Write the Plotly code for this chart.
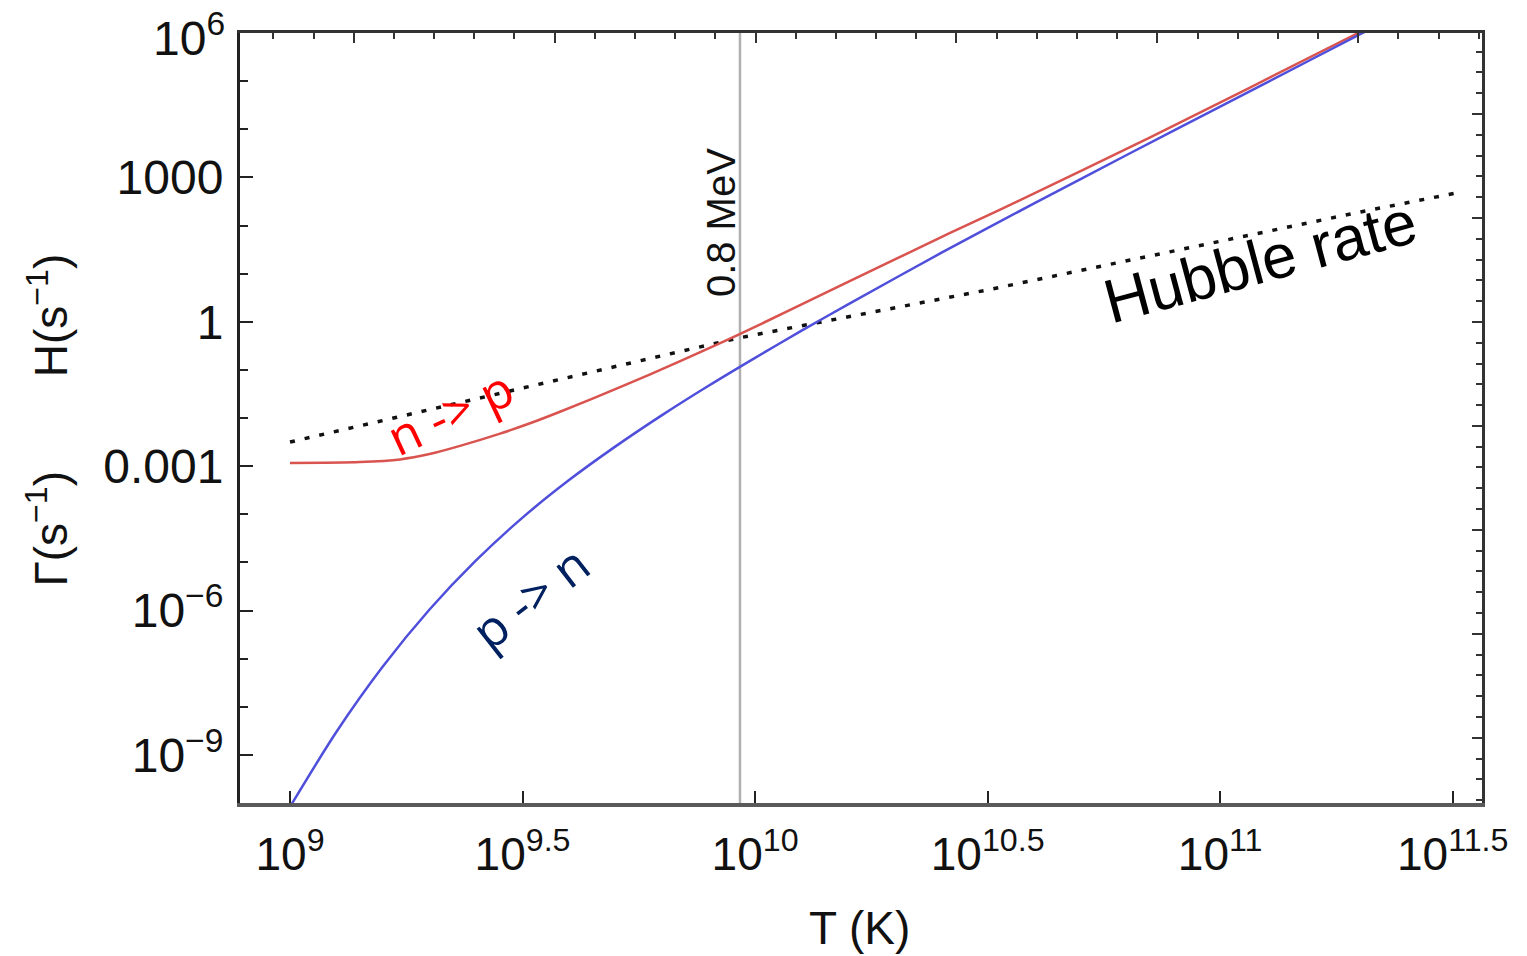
import numpy as np
import plotly.graph_objects as go

# ---- data (log10 values) ----
np_logT = [9.0, 9.15, 9.2366, 9.3, 9.3656, 9.45, 9.5161, 9.5806, 9.7097, 9.8365, 9.9634,
           10.19, 10.4194, 10.5269, 10.8495, 11.2968, 11.40]
np_logR = [-2.934, -2.915, -2.86, -2.75, -2.58, -2.33, -2.11, -1.87, -1.36, -0.83, -0.275,
           0.78, 1.845, 2.33, 3.83, 6.0, 6.5]

pn_logT = [9.0, 9.1, 9.2, 9.3, 9.4, 9.5, 9.6, 9.7, 9.8, 9.9, 10.0, 10.1, 10.2,
           10.4, 10.6, 10.8, 11.0, 11.2, 11.4]
pn_logR = [-10.08, -8.52, -7.16, -5.98, -4.96, -4.07, -3.29, -2.59, -1.94, -1.33, -0.75,
           -0.185, 0.36, 1.43, 2.46, 3.47, 4.47, 5.47, 6.47]

hub_logT = [9.0, 9.667, 9.963, 10.499, 11.301, 11.51]
hub_logR = [-2.50, -1.00, -0.34, 0.66, 2.28, 2.68]

T_08MEV = 9.28e9  # 0.8 MeV in K

x_tickvals = [1e9, 10**9.5, 1e10, 10**10.5, 1e11, 10**11.5]
x_ticktext = ["10<sup>9</sup>", "10<sup>9.5</sup>", "10<sup>10</sup>", "10<sup>10.5</sup>",
              "10<sup>11</sup>", "10<sup>11.5</sup>"]
y_tickvals = [1e6, 1e3, 1, 1e-3, 1e-6, 1e-9]
y_ticktext = ["10<sup>6</sup>", "1000", "1", "0.001", "10<sup>\u22126</sup>", "10<sup>\u22129</sup>"]
y_minorvals = [10.0**k for k in range(-9, 7)]

X_RANGE = [8.8925, 11.563]
Y_RANGE = [-10.0, 6.0]

FONT = "Liberation Sans, Arial, sans-serif"

def p10(a):
    return np.power(10.0, np.array(a))

fig = go.Figure()

fig.add_trace(go.Scatter(x=p10(hub_logT), y=p10(hub_logR), mode="lines",
                         line=dict(color="#111111", width=3.5, dash="5px,10px"),
                         showlegend=False, hoverinfo="skip"))
fig.add_trace(go.Scatter(x=p10(np_logT), y=p10(np_logR), mode="lines", line_shape="spline",
                         line=dict(color="#d9534f", width=2.5, smoothing=0.8), showlegend=False))
fig.add_trace(go.Scatter(x=p10(pn_logT), y=p10(pn_logR), mode="lines", line_shape="spline",
                         line=dict(color="#4f4fdc", width=2.5, smoothing=0.8), showlegend=False))
# empty traces so the frame axes (top / right) get drawn
fig.add_trace(go.Scatter(x=[], y=[], xaxis="x2", yaxis="y", showlegend=False, hoverinfo="skip"))
fig.add_trace(go.Scatter(x=[], y=[], xaxis="x", yaxis="y2", showlegend=False, hoverinfo="skip"))

fig.add_vline(x=T_08MEV, line=dict(color="#b0b0b0", width=2.5), layer="below")

# the topmost label sits on the frame edge, so it is placed as an annotation
top_label = y_ticktext[0]
axis_ticktext = [""] + y_ticktext[1:]

fig.update_layout(
    width=1527, height=956,
    margin=dict(l=240, r=45, t=33, b=153),
    paper_bgcolor="white", plot_bgcolor="white",
    font=dict(family=FONT, color="#111111"),
    xaxis=dict(type="log", range=X_RANGE, showgrid=False, zeroline=False,
               showline=True, linecolor="#5a5a5a", linewidth=4,
               tickmode="array", tickvals=x_tickvals, ticktext=x_ticktext,
               ticks="inside", ticklen=12, tickwidth=2, tickcolor="#222",
               tickfont=dict(size=46, color="#111"), ticklabelstandoff=8),
    yaxis=dict(type="log", range=Y_RANGE, showgrid=False, zeroline=False,
               showline=True, linecolor="#222", linewidth=3,
               tickmode="array", tickvals=y_tickvals, ticktext=axis_ticktext,
               ticks="inside", ticklen=13, tickwidth=2, tickcolor="#222",
               tickfont=dict(size=48, color="#111"), ticklabelstandoff=4,
               minor=dict(tickmode="array", tickvals=y_minorvals, ticks="inside",
                          ticklen=8, tickwidth=2, tickcolor="#222")),
    xaxis2=dict(overlaying="x", side="top", anchor="y", type="linear", range=X_RANGE,
                showgrid=False, zeroline=False, showline=True, linecolor="#333", linewidth=3,
                showticklabels=False, ticks="inside", tick0=10.865, dtick=0.432,
                ticklen=10, tickwidth=2, tickcolor="#333",
                minor=dict(ticks="inside", dtick=0.0864, tick0=10.865, ticklen=6,
                           tickwidth=2, tickcolor="#333")),
    yaxis2=dict(overlaying="y", side="right", anchor="x", type="linear", range=Y_RANGE,
                showgrid=False, zeroline=False, showline=True, linecolor="#333", linewidth=3,
                showticklabels=False, ticks="inside", tick0=2.156, dtick=2.16,
                ticklen=10, tickwidth=2, tickcolor="#333",
                minor=dict(ticks="inside", dtick=0.432, tick0=2.156, ticklen=6,
                           tickwidth=2, tickcolor="#333")),
)

fig.add_annotation(text=top_label, xref="paper", yref="y", x=0, y=np.log10(y_tickvals[0]),
                   xanchor="right", yanchor="middle", xshift=-13, yshift=-2, showarrow=False,
                   font=dict(size=48, color="#111"))

# axis titles
fig.add_annotation(text="T (K)", xref="paper", yref="paper", x=0.499, y=-0.162,
                   xanchor="center", yanchor="middle",
                   showarrow=False, font=dict(size=46, color="#111"))
fig.add_annotation(text="H(s<sup>\u22121</sup>)", xref="paper", yref="paper", x=-0.155, y=0.634,
                   xanchor="center", yanchor="middle",
                   textangle=-90, showarrow=False, font=dict(size=46, color="#111"))
fig.add_annotation(text="\u0393(s<sup>\u22121</sup>)", xref="paper", yref="paper", x=-0.155, y=0.357,
                   xanchor="center", yanchor="middle",
                   textangle=-90, showarrow=False, font=dict(size=46, color="#111"))

# in-plot labels (log10 coordinates)
fig.add_annotation(text="0.8 MeV", x=np.log10(T_08MEV), y=2.07, xshift=-19,
                   xanchor="center", yanchor="middle",
                   textangle=-90, showarrow=False, font=dict(size=40, color="#111"))
fig.add_annotation(text="Hubble rate", x=11.086, y=1.242, textangle=-15,
                   xanchor="center", yanchor="middle",
                   showarrow=False, font=dict(size=62, color="#000"))
fig.add_annotation(text="n -> p", x=9.344, y=-1.874, textangle=-25,
                   xanchor="center", yanchor="middle",
                   showarrow=False, font=dict(family="Open Sans, sans-serif", size=50, color="#ff0000"))
fig.add_annotation(text="p -> n", x=9.516, y=-5.718, textangle=-38,
                   xanchor="center", yanchor="middle",
                   showarrow=False, font=dict(family="Open Sans, sans-serif", size=50, color="#002060"))

fig.write_html("out.html")
